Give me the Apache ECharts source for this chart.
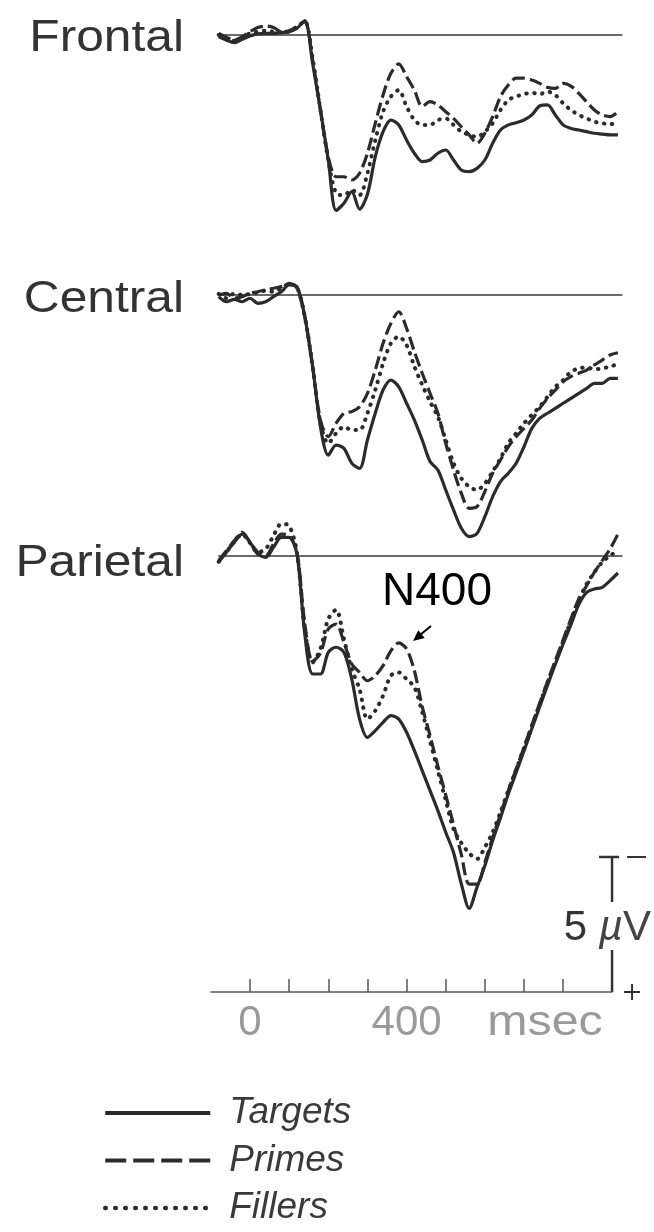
<!DOCTYPE html>
<html>
<head>
<meta charset="utf-8">
<script src="https://cdn.jsdelivr.net/npm/echarts@6/dist/echarts.min.js"></script>
<style>
  html, body { margin: 0; padding: 0; background: #ffffff; }
  #chart { width: 654px; height: 1232px; }
</style>
</head>
<body>
<div id="chart"></div>
<script>
// Averaged ERP waveforms at three midline sites; negative up, amplitudes in µV.
const timesMs = [-80,-60,-40,-20,0,20,40,60,80,100,120,140,160,180,200,220,240,260,280,300,
  320,340,360,380,400,420,440,460,480,500,520,540,560,580,600,620,640,660,680,700,
  720,740,760,780,800,820,840,860,880,900,920,940];

const frontalTargets = [0.06,0.19,0.28,0.16,0.04,-0.04,-0.06,-0.06,-0.09,-0.12,-0.25,-0.53,
  1.05,2.78,4.63,6.50,6.23,5.80,6.45,5.90,4.51,3.58,
  3.15,3.33,3.89,4.38,4.69,4.63,4.38,4.26,4.63,5.00,
  5.06,4.94,4.63,4.01,3.52,3.33,3.25,3.15,2.96,2.63,
  2.59,2.96,3.33,3.46,3.52,3.58,3.64,3.67,3.70,3.70];
const frontalPrimes = [-0.06,0.09,0.19,0.06,-0.12,-0.28,-0.33,-0.28,-0.12,-0.16,-0.31,-0.49,
  0.93,2.78,4.51,5.25,5.25,5.37,5.12,4.38,3.27,2.22,
  1.42,1.07,1.54,2.04,2.65,2.47,2.59,2.84,3.09,3.40,
  3.70,4.01,3.64,3.02,2.28,1.85,1.60,1.60,1.67,1.79,
  1.94,1.98,1.79,1.89,2.16,2.47,2.78,2.96,3.02,2.84];
const frontalFillers = [0.00,0.12,0.21,0.09,-0.06,-0.12,-0.16,-0.12,-0.11,-0.12,-0.31,-0.51,
  0.86,2.78,4.63,5.86,5.93,5.74,5.93,5.12,3.89,2.84,
  2.28,2.04,2.65,3.15,3.33,3.33,3.15,3.09,3.33,3.58,
  3.70,3.77,3.58,3.27,2.78,2.41,2.28,2.19,2.14,2.19,
  2.10,2.22,2.53,2.78,2.96,3.09,3.21,3.27,3.30,3.27];

const centralTargets = [0.06,0.25,0.16,0.25,0.12,0.31,0.25,0.06,-0.12,-0.37,-0.31,0.80,
  2.65,4.88,5.93,5.56,5.68,6.23,6.42,5.37,4.38,3.52,
  3.15,3.40,4.01,4.63,5.37,6.17,6.48,7.22,7.96,8.64,
  8.95,8.83,8.21,7.47,6.91,6.60,6.23,5.62,4.94,4.57,
  4.38,4.20,4.01,3.83,3.64,3.46,3.27,3.27,3.09,3.09];
const centralPrimes = [0.00,-0.06,0.12,0.06,-0.06,-0.12,-0.19,-0.25,-0.31,-0.43,-0.25,0.80,
  2.65,4.63,5.25,4.75,4.38,4.32,4.14,3.64,2.78,1.79,
  1.05,0.62,1.23,2.10,2.90,3.64,4.38,5.49,6.48,7.35,
  7.90,7.84,7.28,6.60,6.11,5.62,5.25,4.94,4.63,4.20,
  3.83,3.52,3.21,3.02,2.90,2.78,2.59,2.41,2.22,2.14];
const centralFillers = [-0.04,0.12,-0.06,0.00,-0.04,-0.09,-0.16,-0.12,-0.25,-0.41,-0.28,0.80,
  2.65,4.75,5.49,5.12,4.88,5.00,5.00,4.38,3.52,2.53,
  1.79,1.54,1.85,2.65,3.33,3.95,4.51,5.37,6.23,6.79,
  7.10,7.22,6.98,6.54,6.05,5.49,5.12,4.75,4.44,4.14,
  3.77,3.40,3.15,2.84,2.72,2.68,2.75,2.72,2.65,2.56];

const parietalTargets = [0.23,-0.14,-0.51,-0.81,-0.51,-0.07,0.05,-0.32,-0.69,-0.69,-0.07,2.90,
  4.37,4.37,3.57,3.38,3.57,4.56,6.04,6.72,6.47,6.16,
  5.91,6.04,6.53,7.21,7.95,8.69,9.43,10.23,10.98,12.15,
  13.05,12.27,11.47,10.54,9.69,8.81,8.02,7.22,6.40,5.59,
  4.79,4.01,3.26,2.54,1.80,1.35,1.22,1.16,0.91,0.63];
const parietalPrimes = [0.17,-0.20,-0.57,-0.88,-0.51,-0.14,-0.01,-0.44,-0.81,-0.75,-0.14,2.50,
  3.90,3.60,2.70,2.52,3.20,4.00,4.31,4.62,4.43,4.06,
  3.51,3.22,3.44,4.25,5.58,6.65,7.78,8.85,9.94,11.06,
  12.15,12.15,11.35,10.42,9.57,8.69,7.89,7.09,6.26,5.46,
  4.65,3.88,3.10,2.33,1.59,1.10,0.60,0.17,-0.26,-0.81];
const parietalFillers = [0.21,-0.16,-0.53,-0.81,-0.48,-0.14,-0.26,-0.75,-1.19,-1.12,-0.14,2.70,
  3.94,3.44,2.33,1.99,3.07,4.19,4.93,6.04,5.73,5.17,
  4.43,4.31,4.56,4.86,5.78,6.85,7.96,9.04,10.11,10.63,
  11.01,11.22,10.79,10.23,9.49,8.69,7.91,7.12,6.31,5.49,
  4.70,3.94,3.17,2.40,1.65,1.04,0.60,0.23,-0.01,-0.20];

const siteNames = ['Frontal', 'Central', 'Parietal'];
const conditionNames = ['Targets', 'Primes', 'Fillers'];
const tickTimes = [0, 100, 200, 300, 400, 500, 600, 700, 800];
const labelTimes = [0, 400];
const calibrationUv = 5;

// ---- layout ----
const FONT = "'Liberation Sans', Arial, Helvetica, sans-serif";
const INK = '#2b2b2b';
const PX_PER_UV = 27;          // vertical scale shared by all three sites
const PX_PER_MS = 0.3914;      // horizontal scale shared by all axes
const ZERO_X = 250;            // pixel column of stimulus onset
const T_START = -80, T_END = 950;
const AXIS_START = -100, AXIS_END = 925;
const TIME_AXIS_Y = 992;

const panels = [
  { base: 35,  min: -1.2, max: 7.5,  data: [frontalTargets, frontalPrimes, frontalFillers] },
  { base: 295, min: -1.2, max: 9.5,  data: [centralTargets, centralPrimes, centralFillers] },
  { base: 556, min: -1.5, max: 14.0, data: [parietalTargets, parietalPrimes, parietalFillers] }
];

const lineStyles = {
  Targets: { type: 'solid', width: 3.2 },
  Primes:  { type: [13, 5], width: 3.2 },
  Fillers: { type: [0.5, 7.5], width: 4, cap: 'round' }
};
// heavier strokes for the key samples
const legendLineStyles = {
  Targets: { type: 'solid', width: 4 },
  Primes:  { type: [21, 7], width: 4 },
  Fillers: { type: [0.5, 9.5], width: 4.5, cap: 'round' }
};

const grids = [], xAxes = [], yAxes = [], series = [];

panels.forEach((p, i) => {
  grids.push({
    left: ZERO_X + PX_PER_MS * T_START,
    width: PX_PER_MS * (T_END - T_START),
    top: p.base + p.min * PX_PER_UV,
    height: (p.max - p.min) * PX_PER_UV
  });
  xAxes.push({
    type: 'value', gridIndex: i, min: T_START, max: T_END,
    axisLine: { show: true, onZero: true, lineStyle: { color: '#3a3a3a', width: 1.5 } },
    axisTick: { show: false }, axisLabel: { show: false }, splitLine: { show: false }
  });
  yAxes.push({
    type: 'value', gridIndex: i, inverse: true, min: p.min, max: p.max, show: false,
    splitLine: { show: false }
  });
  // fillers first, targets last so the solid trace sits on top
  [2, 1, 0].forEach(c => {
    const name = conditionNames[c];
    series.push({
      type: 'line', name: name, xAxisIndex: i, yAxisIndex: i,
      data: timesMs.map((t, k) => [t, p.data[c][k]]),
      symbol: 'none', smooth: 0.3, silent: true,
      color: INK,
      lineStyle: Object.assign({ color: INK }, lineStyles[name]),
      z: 3 - c
    });
  });
});

// time axis along the bottom
grids.push({
  left: ZERO_X + PX_PER_MS * AXIS_START,
  width: PX_PER_MS * (AXIS_END - AXIS_START),
  top: TIME_AXIS_Y - 10, height: 10
});
xAxes.push({
  type: 'value', gridIndex: 3, min: AXIS_START, max: AXIS_END, position: 'bottom',
  axisLine: { show: true, onZero: false, lineStyle: { color: '#555', width: 1.5 } },
  axisTick: { show: true, inside: true, length: 13, customValues: tickTimes,
              lineStyle: { color: '#555', width: 1.5 } },
  axisLabel: { show: true, customValues: labelTimes, margin: 10,
               fontFamily: FONT, fontSize: 42, color: '#9a9a9a' },
  splitLine: { show: false }
});
yAxes.push({ type: 'value', gridIndex: 3, show: false, min: 0, max: 1 });

const siteLabelY = [39, 300, 564];
const graphics = siteNames.map((s, i) => ({
  type: 'text', x: 184, y: siteLabelY[i], scaleX: 1.13,
  style: { text: s, align: 'right', verticalAlign: 'middle',
           fontFamily: FONT, fontSize: 44, fill: '#333' }
}));

graphics.push(
  { type: 'text', x: 437, y: 592, style: { text: 'N400', align: 'center', verticalAlign: 'middle',
      fontFamily: FONT, fontSize: 46, fill: '#000' } },
  { type: 'line', shape: { x1: 431, y1: 626, x2: 420, y2: 635 },
    style: { stroke: '#000', lineWidth: 2 } },
  { type: 'polygon', shape: { points: [[413, 641], [418.3, 630.2], [424.7, 637.9]] },
    style: { fill: '#000' } },
  { type: 'text', x: 545, y: 1023, scaleX: 1.15,
    style: { text: 'msec', align: 'center', verticalAlign: 'middle',
             fontFamily: FONT, fontSize: 42, fill: '#9a9a9a' } }
);

const chart = echarts.init(document.getElementById('chart'));
chart.setOption({
  animation: false,
  backgroundColor: '#ffffff',
  grid: grids,
  xAxis: xAxes,
  yAxis: yAxes,
  series: series,
  legend: {
    orient: 'vertical', left: 103, top: 1093, padding: 0,
    itemWidth: 105, itemHeight: 14, itemGap: 7.5,
    selectedMode: false,
    data: conditionNames.map(n => ({ name: n, lineStyle: legendLineStyles[n] })),
    itemStyle: { opacity: 0 },
    textStyle: { fontFamily: FONT, fontStyle: 'italic', fontSize: 37, color: '#3a3a3a',
                 lineHeight: 40, padding: [0, 0, 0, 14] }
  },
  graphic: graphics
});

// calibration bar: 5 µV measured on the parietal scale, standing on the time axis
const y0 = chart.convertToPixel({ yAxisIndex: 2 }, 0);
const y5 = chart.convertToPixel({ yAxisIndex: 2 }, calibrationUv);
const barLen = Math.abs(y5 - y0);
const barX = chart.convertToPixel({ xAxisIndex: 3 }, AXIS_END);
const barBottom = TIME_AXIS_Y;
const barTop = barBottom - barLen;
const calStroke = { stroke: '#333', lineWidth: 2.5 };
graphics.push(
  { type: 'line', shape: { x1: barX, y1: barTop, x2: barX, y2: barTop + 45 }, style: calStroke },
  { type: 'line', shape: { x1: barX, y1: barBottom - 42, x2: barX, y2: barBottom }, style: calStroke },
  { type: 'line', shape: { x1: barX - 13, y1: barTop, x2: barX + 7, y2: barTop }, style: calStroke },
  { type: 'line', shape: { x1: barX + 15, y1: barTop, x2: barX + 34, y2: barTop }, style: { stroke: '#333', lineWidth: 2 } },
  { type: 'line', shape: { x1: barX + 12, y1: barBottom, x2: barX + 28, y2: barBottom }, style: { stroke: '#333', lineWidth: 2 } },
  { type: 'line', shape: { x1: barX + 20, y1: barBottom - 8, x2: barX + 20, y2: barBottom + 8 }, style: { stroke: '#333', lineWidth: 2 } },
  { type: 'text', x: 651, y: barTop + 71,
    style: { text: '{n|' + calibrationUv + ' }{u|µ}{v|V}', align: 'right', verticalAlign: 'middle',
             rich: {
               n: { fontFamily: FONT, fontSize: 42, fill: '#333', color: '#333' },
               u: { fontFamily: FONT, fontSize: 42, fontStyle: 'italic', fill: '#444', color: '#444' },
               v: { fontFamily: FONT, fontSize: 42, fill: '#444', color: '#444' }
             } } }
);
chart.setOption({ graphic: graphics }, { replaceMerge: ['graphic'] });
</script>
</body>
</html>
